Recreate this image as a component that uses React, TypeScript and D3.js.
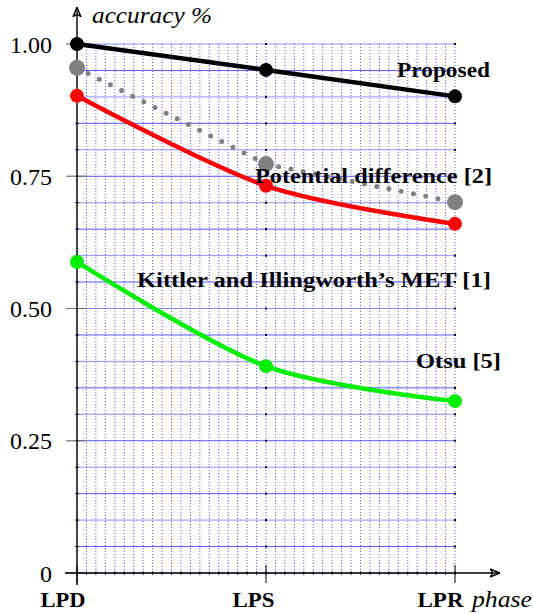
import React from "react";
import * as d3 from "d3";

const categories = ["LPD", "LPS", "LPR"];
const proposed = [1.0, 0.951, 0.901];
const potential = [0.955, 0.773, 0.701];
const kittler = [0.902, 0.732, 0.66];
const otsu = [0.588, 0.391, 0.325];
const yTicks = [0, 0.25, 0.5, 0.75, 1.0];
const yTickLabels = ["0", "0.25", "0.50", "0.75", "1.00"];

const seriesLabels = [
  "Proposed",
  "Potential difference [2]",
  "Kittler and Illingworth\u2019s MET [1]",
  "Otsu [5]",
];

export default function App() {
  const W = 533, H = 614;
  const x = d3.scaleLinear().domain([0, 2]).range([77, 455]);
  const y = d3.scaleLinear().domain([0, 1]).range([573, 44]);
  const idx = categories.map((_, i) => i);

  const labelPos = [
    { x: 397, y: 77, w: 93 },
    { x: 255, y: 183, w: 237 },
    { x: 137, y: 287, w: 354 },
    { x: 416, y: 368, w: 85 },
  ];
  const catWidths = [45, 42, 46];

  const hLines = d3.range(0, 21).map((i) => i * 0.05);
  const vLines = d3.range(0, 41).map((i) => i * 0.05);

  const smooth = d3
    .line<number>()
    .x((_, i) => x(i))
    .y((d) => y(d))
    .curve(d3.curveCardinal.tension(0.1));
  const straight = d3
    .line<number>()
    .x((_, i) => x(i))
    .y((d) => y(d));

  const serif = { fontFamily: "Liberation Serif, Times New Roman, Times, serif" };

  return (
    <svg width={W} height={H} style={{ position: "absolute", left: 0, top: 0 }}>
      <defs>
        <marker id="arr" viewBox="0 0 10 10" refX="9" refY="5" markerWidth="10" markerHeight="10" markerUnits="userSpaceOnUse" orient="auto">
          <path d="M0,1 Q5,5 0,9 M0,1 L10,5 L0,9" fill="none" stroke="black" strokeWidth={1.4} />
        </marker>
      </defs>
      {/* grid */}
      {vLines.map((v, i) => (
        <line key={"v" + i} x1={x(v)} x2={x(v)} y1={y(1)} y2={y(0)} stroke="#2222ff" strokeWidth={0.9} strokeDasharray="1 2" opacity={0.85} />
      ))}
      {hLines.map((v, i) => (
        <line key={"h" + i} x1={x(0)} x2={x(2)} y1={y(v)} y2={y(v)} stroke="#3b3bff" strokeWidth={1} opacity={i % 2 === 0 ? 0.55 : 0.85} />
      ))}
      {hLines.map((v, i) =>
        [1, 2].map((c) => (
          <rect key={"d" + i + "-" + c} x={x(c) - 1} y={y(v) - 1} width={2} height={2} fill="black" />
        ))
      )}
      {/* minor ticks on axes */}
      {vLines.map((v, i) => (
        <line key={"xt" + i} x1={x(v)} x2={x(v)} y1={y(0) - 2} y2={y(0) + 2} stroke="black" strokeWidth={0.8} />
      ))}
      {hLines.map((v, i) => (
        <line key={"yt" + i} x1={x(0) - 2} x2={x(0) + 2} y1={y(v)} y2={y(v)} stroke="black" strokeWidth={0.8} />
      ))}
      {/* major y ticks */}
      {yTicks.map((t, i) => (
        <g key={"yl" + i}>
          <line x1={x(0) - 11} x2={x(0) + 10} y1={y(t)} y2={y(t)} stroke="#777" strokeWidth={1.2} />
          <text x={52} y={y(t) + 8.5} textAnchor="end" style={serif} fontSize={24}>
            {yTickLabels[i]}
          </text>
        </g>
      ))}
      {/* x ticks */}
      {idx.map((i) => (
        <g key={"xl" + i}>
          <line x1={x(i)} x2={x(i)} y1={y(0) - 8} y2={y(0) + 10} stroke="black" strokeWidth={1} />
          <text x={x(i) + 8.5 - catWidths[i]} y={607} style={serif} fontWeight="bold" fontSize={21.5} textLength={catWidths[i]} lengthAdjust="spacingAndGlyphs">
            {categories[i]}
          </text>
        </g>
      ))}
      {/* axes */}
      <line x1={65} x2={499} y1={y(0)} y2={y(0)} stroke="black" strokeWidth={1.4} markerEnd="url(#arr)" />
      <line x1={x(0)} x2={x(0)} y1={585} y2={8} stroke="black" strokeWidth={1.4} markerEnd="url(#arr)" />
      <text x={92} y={23} style={serif} fontStyle="italic" fontSize={24} textLength={120} lengthAdjust="spacingAndGlyphs">
        accuracy %
      </text>
      <text x={472} y={607} style={serif} fontStyle="italic" fontSize={24} textLength={60} lengthAdjust="spacingAndGlyphs">
        phase
      </text>
      {/* series */}
      <path d={straight(potential) || ""} fill="none" stroke="#808080" strokeWidth={5} strokeLinecap="round" strokeDasharray="0 12.5" />
      {potential.map((v, i) => (
        <circle key={"pc" + i} cx={x(i)} cy={y(v)} r={8} fill="#808080" />
      ))}
      <path d={smooth(otsu) || ""} fill="none" stroke="#00ee00" strokeWidth={4.5} />
      {otsu.map((v, i) => (
        <circle key={"oc" + i} cx={x(i)} cy={y(v)} r={7} fill="#00ee00" />
      ))}
      <path d={smooth(kittler) || ""} fill="none" stroke="#ff0000" strokeWidth={4.5} />
      {kittler.map((v, i) => (
        <circle key={"kc" + i} cx={x(i)} cy={y(v)} r={7} fill="#ff0000" />
      ))}
      <path d={straight(proposed) || ""} fill="none" stroke="#000" strokeWidth={4.5} />
      {proposed.map((v, i) => (
        <circle key={"prc" + i} cx={x(i)} cy={y(v)} r={7} fill="#000" />
      ))}
      {/* labels */}
      {seriesLabels.map((t, i) => (
        <text key={"lb" + i} x={labelPos[i].x} y={labelPos[i].y} style={serif} fontWeight="bold" fontSize={22} textLength={labelPos[i].w} lengthAdjust="spacingAndGlyphs">
          {t}
        </text>
      ))}
    </svg>
  );
}
